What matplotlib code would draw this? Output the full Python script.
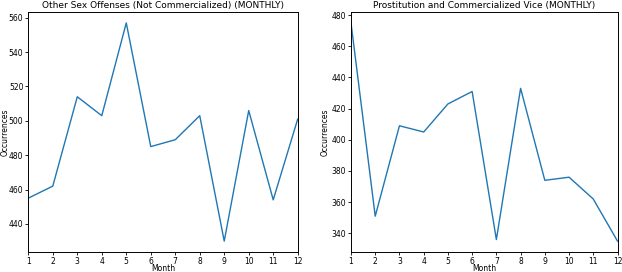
import matplotlib
matplotlib.use("Agg")
import matplotlib.pyplot as plt

months = list(range(1, 13))
other_sex = [455, 462, 514, 503, 557, 485, 489, 503, 430, 506, 454, 501]
prostitution = [475, 351, 409, 405, 423, 431, 336, 433, 374, 376, 362, 335]

titles = [
    "Other Sex Offenses (Not Commercialized) (MONTHLY)",
    "Prostitution and Commercialized Vice (MONTHLY)",
]

fig = plt.figure(figsize=(6.22, 2.72), dpi=100)
ax1 = fig.add_axes([28.3 / 622, 20 / 272, 269.4 / 622, 240 / 272])
ax2 = fig.add_axes([351 / 622, 20 / 272, 266.5 / 622, 240 / 272])

for ax, vals, title in zip([ax1, ax2], [other_sex, prostitution], titles):
    ax.plot(months, vals, color="#1f77b4", linewidth=1.0)
    ax.set_xlim(1, 12)
    ax.set_xticks(months)
    ax.set_title(title, fontsize=6.5, pad=3)
    ax.set_xlabel("Month", fontsize=5.5, labelpad=-1)
    ax.set_ylabel("Occurrences", fontsize=5.5, labelpad=1)
    ax.tick_params(labelsize=5.5, length=2.5, width=0.6, pad=1.0)
    for s in ax.spines.values():
        s.set_linewidth(0.7)

# left label would fall off the figure edge; pin it just inside
ax1.yaxis.set_label_coords(-0.068, 0.5)

fig.savefig("out.png", dpi=100)
